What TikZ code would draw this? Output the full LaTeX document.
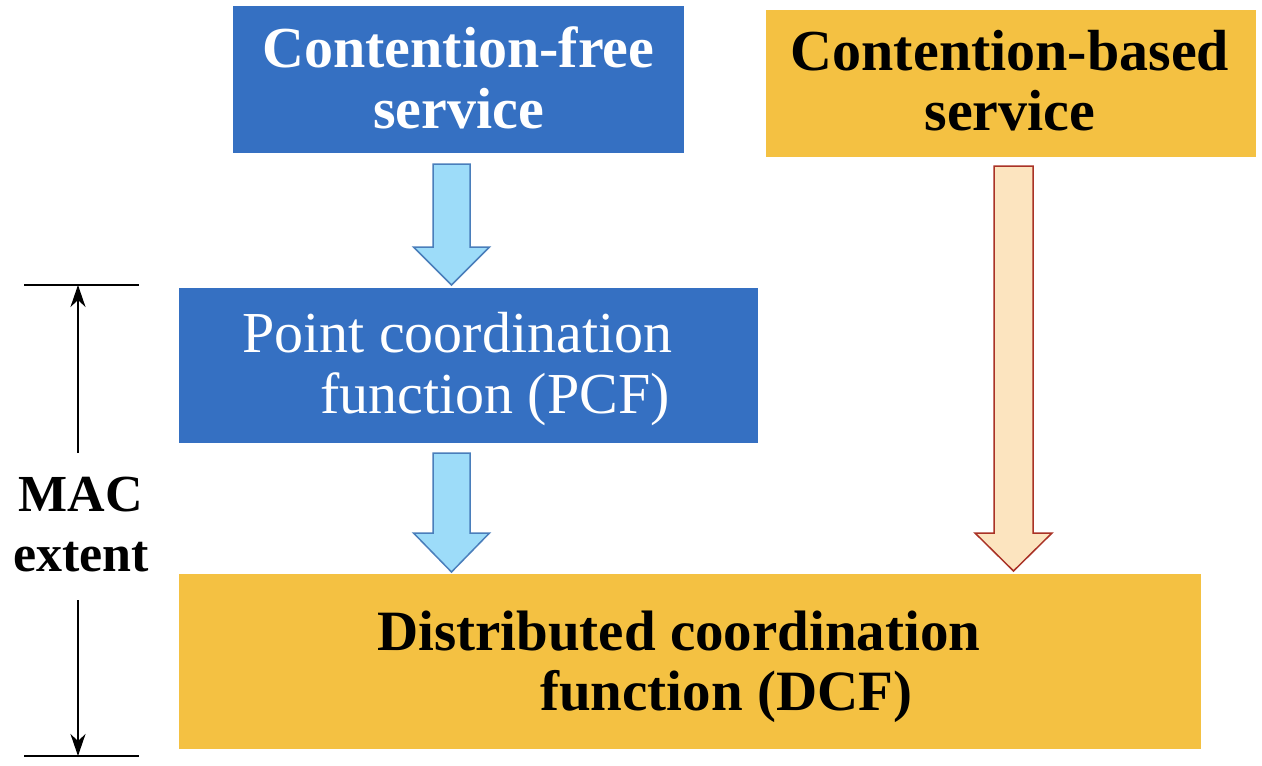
\documentclass[tikz,border=0pt]{standalone}
\usepackage{fontspec}
\setmainfont{Liberation Serif}
\usetikzlibrary{arrows.meta,calc}
\definecolor{boxblue}{HTML}{3570C2}
\definecolor{boxyellow}{HTML}{F4C142}
\definecolor{arrblue}{HTML}{9DDCF9}
\definecolor{arrblueline}{HTML}{4A7EBB}
\definecolor{arrpeach}{HTML}{FCE4BF}
\definecolor{arrred}{HTML}{A93226}
\tikzset{
  boxnode/.style={rectangle, inner sep=0pt, outer sep=0pt, draw=none},
  bluebox/.style={boxnode, fill=boxblue},
  yellowbox/.style={boxnode, fill=boxyellow},
  txt/.style={inner sep=0pt, align=center},
  txtl/.style={inner sep=0pt, align=left},
  bluearrow/.style={fill=arrblue, draw=arrblueline, line width=1.5pt, line join=miter},
  redarrow/.style={fill=arrpeach, draw=arrred, line width=1.5pt, line join=miter},
  dimline/.style={line width=2pt, black},
  dimarrow/.style={line width=2pt, black, -{Stealth[length=22pt,width=15pt,inset=7pt]}}
}
% block arrow: style, centre x, shaft half width, head half width, top y, head y, tip y
\newcommand{\myblockarrow}[7]{%
  \draw[#1] (#2-#3,#5) -- (#2+#3,#5) -- (#2+#3,#6) -- (#2+#4,#6) -- (#2,#7)
    -- (#2-#4,#6) -- (#2-#3,#6) -- cycle;}
\begin{document}
\begin{tikzpicture}[x=1pt,y=-1pt]
\useasboundingbox (0,0) rectangle (1262,766);
\fill[white] (0,0) rectangle (1262,766);

% boxes
\node[bluebox, minimum width=451pt, minimum height=147pt] (cf) at (458.5,79.5) {};
\node[txt, text=white, font=\fontsize{58}{61}\selectfont\bfseries, anchor=base] (cftext) at (458.5,128)
  {Contention-free\\service};

\node[yellowbox, minimum width=490pt, minimum height=147pt] (cb) at (1011,83.5) {};
\node[txt, text=black, font=\fontsize{58}{60}\selectfont\bfseries, anchor=base] (cbtext) at (1010,130)
  {Contention-based\\service};

\node[bluebox, minimum width=579pt, minimum height=155pt] (pcf) at (468.5,365.5) {};
\node[txtl, text=white, font=\fontsize{58}{61}\selectfont, anchor=base west] (pcftext) at (242,413)
  {Point coordination\\\hspace*{78pt}function (PCF)};

\node[yellowbox, minimum width=1022pt, minimum height=175pt] (dcf) at (690,661.5) {};
\node[txtl, text=black, font=\fontsize{57}{60}\selectfont\bfseries, anchor=base west] (dcftext) at (377,710)
  {Distributed coordination\\\hspace*{163pt}function (DCF)};

% block arrows
\myblockarrow{bluearrow}{451.5}{18.5}{38}{164}{247}{285}
\myblockarrow{bluearrow}{451.5}{18.5}{38}{453}{533}{572}
\myblockarrow{redarrow}{1013.5}{19.5}{38.5}{166}{533}{571}

% MAC extent
\node[txt, text=black, font=\fontsize{52}{60}\selectfont\bfseries, anchor=base, fill=white, inner sep=3pt] (mac) at (81,571)
  {MAC\\extent};
\coordinate (ttl) at (24,285);
\coordinate (ttr) at (139,285);
\coordinate (bbl) at (24,756);
\coordinate (bbr) at (139,756);
\coordinate (tt) at (78,285);
\coordinate (bb) at (78,756);
\coordinate (as1) at (78,453);
\coordinate (as2) at (78,600);
\draw[dimline] (ttl) -- (ttr);
\draw[dimline] (bbl) -- (bbr);
\draw[dimarrow] (as1) -- (tt);
\draw[dimarrow] (as2) -- (bb);
\end{tikzpicture}
\end{document}
